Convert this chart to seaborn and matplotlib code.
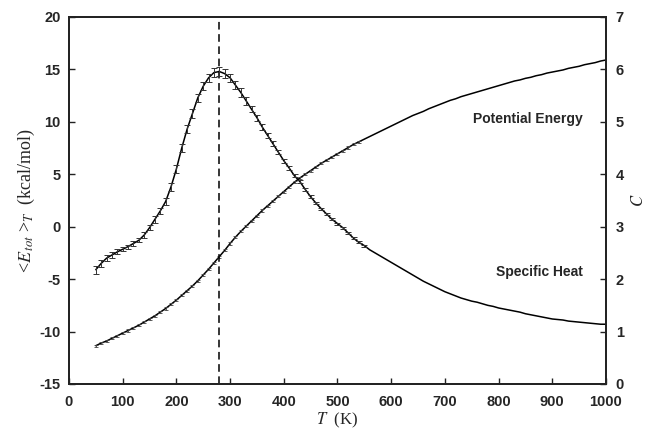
import numpy as np
import pandas as pd
import matplotlib
matplotlib.use("Agg")
import matplotlib.pyplot as plt
import seaborn as sns

# ---------------- data ----------------
temperature = list(range(50, 1001, 10))

specific_heat = [
    2.18, 2.30, 2.40, 2.46, 2.52, 2.57, 2.62, 2.68, 2.74, 2.84,
    2.98, 3.14, 3.30, 3.48, 3.76, 4.10, 4.50, 4.86, 5.16, 5.46,
    5.68, 5.84, 5.94, 5.96, 5.92, 5.84, 5.70, 5.56, 5.40, 5.24,
    5.08, 4.90, 4.74, 4.58, 4.42, 4.26, 4.12, 3.97, 3.86, 3.71,
    3.57, 3.45, 3.34, 3.24, 3.14, 3.06, 2.98, 2.88, 2.78, 2.70,
    2.64, 2.56, 2.50, 2.44, 2.38, 2.32, 2.26, 2.20, 2.14, 2.08,
    2.02, 1.96, 1.91, 1.86, 1.81, 1.76, 1.72, 1.68, 1.64, 1.61,
    1.58, 1.56, 1.53, 1.50, 1.48, 1.45, 1.43, 1.41, 1.39, 1.37,
    1.34, 1.32, 1.30, 1.28, 1.26, 1.24, 1.23, 1.22, 1.20, 1.19,
    1.18, 1.17, 1.16, 1.15, 1.14, 1.14,
]

specific_heat_err = (
    [0.08, 0.07, 0.06, 0.05, 0.05]
    + [0.04, 0.04, 0.04, 0.04, 0.05, 0.05, 0.06, 0.06, 0.07, 0.07]
    + [0.08] * 14
    + [0.06, 0.06, 0.05, 0.05, 0.05, 0.04, 0.04, 0.04, 0.03, 0.03, 0.03, 0.03]
    + [0.02] * 10
    + [0.0] * 45
)

potential_energy = [
    -11.35, -11.1, -10.9, -10.65, -10.4, -10.15, -9.9, -9.65, -9.4, -9.1,
    -8.8, -8.5, -8.15, -7.8, -7.4, -7.0, -6.55, -6.1, -5.65, -5.15,
    -4.6, -4.05, -3.45, -2.85, -2.25, -1.6, -1.0, -0.45, 0.05, 0.55,
    1.05, 1.55, 2.0, 2.45, 2.9, 3.35, 3.8, 4.25, 4.65, 5.0,
    5.35, 5.7, 6.05, 6.35, 6.65, 6.95, 7.25, 7.55, 7.85, 8.1,
    8.35, 8.6, 8.85, 9.1, 9.35, 9.6, 9.85, 10.1, 10.35, 10.6,
    10.8, 11.0, 11.25, 11.45, 11.65, 11.85, 12.05, 12.2, 12.4, 12.55,
    12.7, 12.85, 13.0, 13.15, 13.3, 13.45, 13.6, 13.75, 13.9, 14.0,
    14.15, 14.25, 14.4, 14.5, 14.65, 14.75, 14.85, 14.95, 15.1, 15.2,
    15.3, 15.45, 15.55, 15.65, 15.8, 15.9,
]
potential_energy_err = [0.1] * 50 + [0.0] * 46

peak_temperature = 279

x_ticks = list(range(0, 1001, 100))
left_ticks = list(range(-15, 21, 5))
right_ticks = list(range(0, 8))

df = pd.DataFrame({
    "T": temperature,
    "C": specific_heat,
    "Cerr": specific_heat_err,
    "E": potential_energy,
    "Eerr": potential_energy_err,
})

# ---------------- plot ----------------
sns.set_style("ticks")
plt.rcParams["font.family"] = ["Liberation Sans", "DejaVu Sans"]
plt.rcParams["mathtext.fontset"] = "stix"
plt.rcParams["axes.unicode_minus"] = False

fig = plt.figure(figsize=(6.47, 4.38), dpi=100)
ax = fig.add_axes([0.1066, 0.1233, 0.83, 0.8379])
ax2 = ax.twinx()

spine_color = "#222222"

# potential energy (left axis)
sns.lineplot(data=df, x="T", y="E", ax=ax, color="black", linewidth=1.1)
pe = df[df["Eerr"] > 0]
ax.errorbar(pe["T"], pe["E"], yerr=pe["Eerr"], fmt="none", ecolor="#444444",
            elinewidth=0.6, capsize=1.4, capthick=0.6)

# specific heat (right axis)
sns.lineplot(data=df, x="T", y="C", ax=ax2, color="black", linewidth=1.1)
sh = df[df["Cerr"] > 0]
ax2.errorbar(sh["T"], sh["C"], yerr=sh["Cerr"], fmt="none", ecolor="#333333",
             elinewidth=0.7, capsize=2.0, capthick=0.7)

ax.axvline(peak_temperature, color="black", linestyle=(0, (5, 3)), linewidth=1.1)

ax.set_xlim(0, 1000)
ax.set_ylim(-15, 20)
ax2.set_ylim(0, 7)
ax.set_xticks(x_ticks)
ax.set_yticks(left_ticks)
ax2.set_yticks(right_ticks)

for a in (ax, ax2):
    for s in a.spines.values():
        s.set_visible(True)
        s.set_color(spine_color)
        s.set_linewidth(1.3)
    a.tick_params(direction="in", length=4, width=1.0, color=spine_color,
                  labelsize=10.5, pad=6)
    for lab in a.get_xticklabels() + a.get_yticklabels():
        lab.set_fontweight("bold")

ax.tick_params(axis="x", pad=8)
ax2.tick_params(axis="y", pad=7)

ax.set_xlabel(r"$T$  (K)", family=["Liberation Serif", "DejaVu Serif"],
              fontsize=12, labelpad=1)
ax.set_ylabel(r"<$E_{\,tot}$ >$_T$  (kcal/mol)",
              family=["Liberation Serif", "DejaVu Serif"], fontsize=13, labelpad=2)
ax2.set_ylabel(r"$C$", fontsize=12, rotation=90, labelpad=4)

ax.text(957, 10.3, "Potential Energy", ha="right", va="center",
        fontsize=10, fontweight="bold")
ax.text(957, -4.3, "Specific Heat", ha="right", va="center",
        fontsize=10, fontweight="bold")

fig.savefig("out.png", dpi=100)
